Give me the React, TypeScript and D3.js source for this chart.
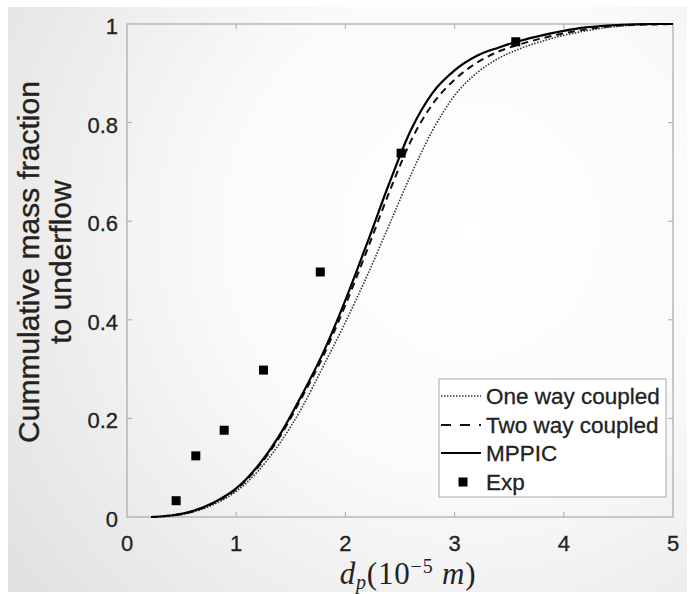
import React from "react";
import * as d3 from "d3";

const xTicks = [0, 1, 2, 3, 4, 5];
const yTicks = [0, 0.2, 0.4, 0.6, 0.8, 1];
const yTickLabels = ["0", "0.2", "0.4", "0.6", "0.8", "1"];

const curveX = [0.22, 0.4, 0.6, 0.8, 1.0, 1.2, 1.4, 1.6, 1.8, 2.0, 2.2, 2.4, 2.6, 2.8, 3.0, 3.2, 3.4, 3.6, 3.8, 4.0, 4.2, 4.4, 4.6, 4.8, 5.0];
// MPPIC (solid)
const mppicY = [0.0, 0.003, 0.012, 0.03, 0.058, 0.104, 0.167, 0.247, 0.335, 0.44, 0.556, 0.676, 0.785, 0.861, 0.906, 0.935, 0.952, 0.966, 0.977, 0.986, 0.993, 0.997, 0.999, 1.0, 1.0];
// Two way coupled (dashed)
const twoWayY = [0.0, 0.003, 0.011, 0.029, 0.056, 0.101, 0.163, 0.242, 0.328, 0.43, 0.542, 0.658, 0.763, 0.838, 0.887, 0.921, 0.944, 0.959, 0.971, 0.981, 0.989, 0.995, 0.998, 0.999, 1.0];
// One way coupled (dotted)
const oneWayY = [0.0, 0.002, 0.01, 0.026, 0.052, 0.093, 0.15, 0.221, 0.307, 0.395, 0.49, 0.592, 0.694, 0.785, 0.855, 0.9, 0.93, 0.95, 0.965, 0.977, 0.986, 0.993, 0.997, 0.999, 1.0];
// Experimental
const expX = [0.45, 0.63, 0.89, 1.25, 1.77, 2.51, 3.56];
const expY = [0.033, 0.124, 0.176, 0.298, 0.497, 0.738, 0.964];

const legendLabels = ["One way coupled", "Two way coupled", "MPPIC", "Exp"];

export default function App() {
  const W = 694, H = 594;
  const x = d3.scaleLinear().domain([0, 5]).range([127, 673]);
  const y = d3.scaleLinear().domain([0, 1]).range([517, 24]);
  const line = d3
    .line<[number, number]>()
    .x((d) => x(d[0]))
    .y((d) => y(d[1]))
    .curve(d3.curveMonotoneX);
  const zip = (a: number[], b: number[]) => a.map((v, i) => [v, b[i]] as [number, number]);

  const axisColor = "#a8a8a8";
  const textColor = "#222";
  const sans = "'Liberation Sans', Arial, sans-serif";
  const tickLen = 5;

  const legX = 439, legY = 379, legW = 227, legH = 118;
  const rowY = [396, 425, 453, 482];

  return (
    <svg width={W} height={H} style={{ position: "absolute", left: 0, top: 0 }}>
      <defs>
        <radialGradient id="bg" cx="470" cy="230" r="560" gradientUnits="userSpaceOnUse">
          <stop offset="0" stopColor="#ffffff" />
          <stop offset="0.45" stopColor="#fafafa" />
          <stop offset="1" stopColor="#e2e2e2" />
        </radialGradient>
      </defs>
      <rect x={0} y={0} width={W} height={H} fill="#ffffff" />
      <rect x={8} y={7} width={679} height={585} fill="url(#bg)" />

      {/* axes box */}
      <rect x={x(0)} y={y(1)} width={x(5) - x(0)} height={y(0) - y(1)} fill="none" stroke={axisColor} strokeWidth={1.2} />
      {xTicks.slice(1, -1).map((t) => (
        <g key={"xt" + t}>
          <line x1={x(t)} x2={x(t)} y1={y(0)} y2={y(0) - tickLen} stroke={axisColor} />
          <line x1={x(t)} x2={x(t)} y1={y(1)} y2={y(1) + tickLen} stroke={axisColor} />
        </g>
      ))}
      {yTicks.slice(1, -1).map((t) => (
        <g key={"yt" + t}>
          <line x1={x(0)} x2={x(0) + tickLen} y1={y(t)} y2={y(t)} stroke={axisColor} />
          <line x1={x(5)} x2={x(5) - tickLen} y1={y(t)} y2={y(t)} stroke={axisColor} />
        </g>
      ))}

      {/* tick labels */}
      {xTicks.map((t) => (
        <text key={"xl" + t} x={x(t)} y={551} textAnchor="middle" fontFamily={sans} fontSize={22} fill={textColor} stroke={textColor} strokeWidth={0.3}>
          {t}
        </text>
      ))}
      {yTicks.map((t, i) => (
        <text key={"yl" + t} x={118} y={y(t) + 10} textAnchor="end" fontFamily={sans} fontSize={22} fill={textColor} stroke={textColor} strokeWidth={0.3}>
          {yTickLabels[i]}
        </text>
      ))}

      {/* y label */}
      <g transform="translate(39,262) rotate(-90)" fill={textColor} stroke={textColor} strokeWidth={0.35}>
        <text x={0} y={0} textAnchor="middle" fontFamily={sans} fontSize={30}>
          Cummulative mass fraction
        </text>
        <text x={0} y={32} textAnchor="middle" fontFamily={sans} fontSize={30}>
          to underflow
        </text>
      </g>

      {/* x label */}
      <text x={408} y={584} textAnchor="middle" fontFamily="'Liberation Serif', 'Times New Roman', serif" fontSize={31} letterSpacing={0.8} fill={textColor}>
        <tspan fontStyle="italic">d</tspan>
        <tspan fontStyle="italic" fontSize={20} dy={5}>p</tspan>
        <tspan dy={-5}>(10</tspan>
        <tspan fontSize={20} dy={-11}>−5</tspan>
        <tspan dy={11} fontStyle="italic"> m</tspan>
        <tspan>)</tspan>
      </text>

      {/* curves */}
      <path d={line(zip(curveX, oneWayY)) || ""} fill="none" stroke="#333" strokeWidth={1.6} strokeDasharray="1.5,1.5" />
      <path d={line(zip(curveX, twoWayY)) || ""} fill="none" stroke="#111" strokeWidth={2} strokeDasharray="7,5" />
      <path d={line(zip(curveX, mppicY)) || ""} fill="none" stroke="#000" strokeWidth={2.2} />
      {expX.map((v, i) => (
        <rect key={"e" + i} x={x(v) - 4.5} y={y(expY[i]) - 4.5} width={9} height={9} fill="#000" />
      ))}

      {/* legend */}
      <rect x={legX} y={legY} width={legW} height={legH} fill="#ffffff" stroke={axisColor} strokeWidth={1} />
      <line x1={441} x2={481} y1={rowY[0]} y2={rowY[0]} stroke="#333" strokeWidth={1.6} strokeDasharray="1.5,1.5" />
      <line x1={441} x2={481} y1={rowY[1]} y2={rowY[1]} stroke="#111" strokeWidth={2} strokeDasharray="10,9" />
      <line x1={441} x2={481} y1={rowY[2]} y2={rowY[2]} stroke="#000" strokeWidth={2.2} />
      <rect x={463 - 4.5} y={rowY[3] - 4.5} width={9} height={9} fill="#000" />
      {legendLabels.map((l, i) => (
        <text key={l} x={486} y={rowY[i] + 8} fontFamily={sans} fontSize={22.5} fill={textColor} stroke={textColor} strokeWidth={0.3}>
          {l}
        </text>
      ))}
    </svg>
  );
}
